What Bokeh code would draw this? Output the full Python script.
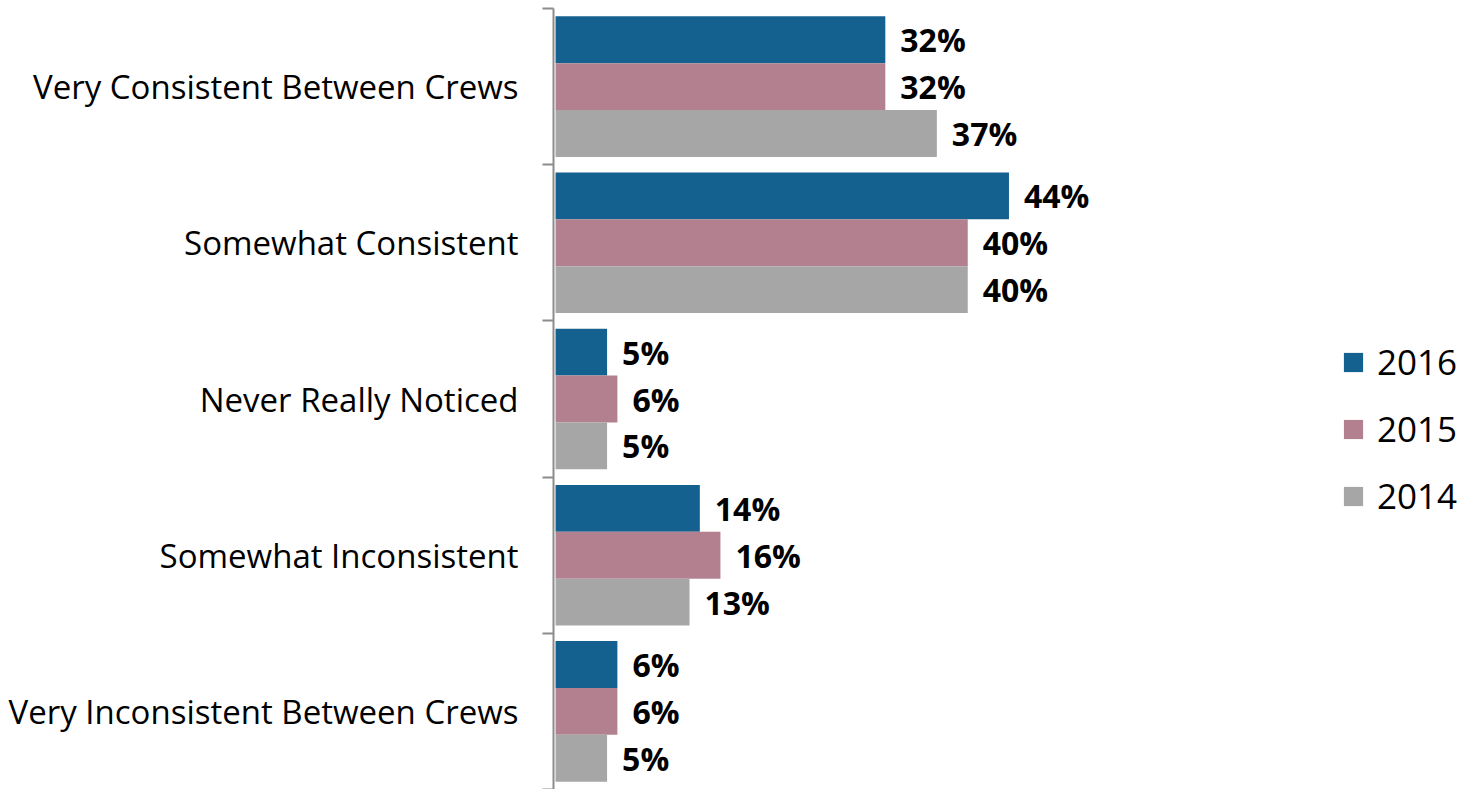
from bokeh.plotting import figure
from bokeh.models import ColumnDataSource, Range1d, FixedTicker, LabelSet, Legend, LegendItem
from bokeh.core.properties import value
from bokeh.embed import file_html
from bokeh.resources import INLINE
import numpy as np

categories = ["Very Consistent Between Crews", "Somewhat Consistent", "Never Really Noticed",
              "Somewhat Inconsistent", "Very Inconsistent Between Crews"]
years = ["2016", "2015", "2014"]
v2016 = [32, 44, 5, 14, 6]
v2015 = [32, 40, 6, 16, 6]
v2014 = [37, 40, 5, 13, 5]
colors = ["#14608f", "#b3808f", "#a6a6a6"]

series = [v2016, v2015, v2014]
n = len(categories)
centers = n - np.arange(n) - 0.5
offsets = [0.3, 0.0, -0.3]
bar_h = 0.3

p = figure(width=1466, height=789, output_backend="svg", toolbar_location=None,
           x_range=Range1d(-0.2, 88.4), y_range=Range1d(0, n),
           x_axis_location=None, min_border_left=553, min_border_right=0,
           min_border_top=8, min_border_bottom=0)
p.outline_line_color = None
p.xgrid.visible = False
p.ygrid.visible = False

renderers = []
for vals, off, col, yr in zip(series, offsets, colors, years):
    src = ColumnDataSource(dict(y=centers + off, v=vals, lab=[f"{x}%" for x in vals]))
    r = p.hbar(y="y", right="v", left=0, height=bar_h, source=src, fill_color=col,
               line_color=None)
    renderers.append((yr, r))
    ls = LabelSet(x="v", y="y", text="lab", source=src, x_offset=15, text_baseline="middle",
                  text_font=value("Open Sans"), text_font_style="bold",
                  text_font_size="32px", text_color="black")
    p.add_layout(ls)

yax = p.yaxis[0]
yax.ticker = FixedTicker(ticks=list(centers), minor_ticks=list(np.arange(n + 1)))
yax.major_label_overrides = {float(c): cat for c, cat in zip(centers, categories)}
yax.major_tick_out = 0
yax.major_tick_in = 0
yax.minor_tick_out = 11
yax.minor_tick_in = 0
yax.minor_tick_line_color = "#8c8c8c"
yax.minor_tick_line_width = 2
yax.axis_line_color = "#8c8c8c"
yax.axis_line_width = 2
yax.major_label_standoff = 24
yax.major_label_text_font = "Open Sans"
yax.major_label_text_font_size = "33px"
yax.major_label_text_color = "black"

legend = Legend(items=[LegendItem(label=yr, renderers=[r]) for yr, r in renderers],
                location=(788, 270), glyph_width=24, glyph_height=24, label_height=24,
                spacing=20, padding=0, margin=0, label_standoff=12,
                label_text_font="Open Sans", label_text_font_size="35px",
                label_text_color="black",
                border_line_color=None, background_fill_alpha=0)
p.add_layout(legend)

open("out.html", "w").write(file_html(p, INLINE))
